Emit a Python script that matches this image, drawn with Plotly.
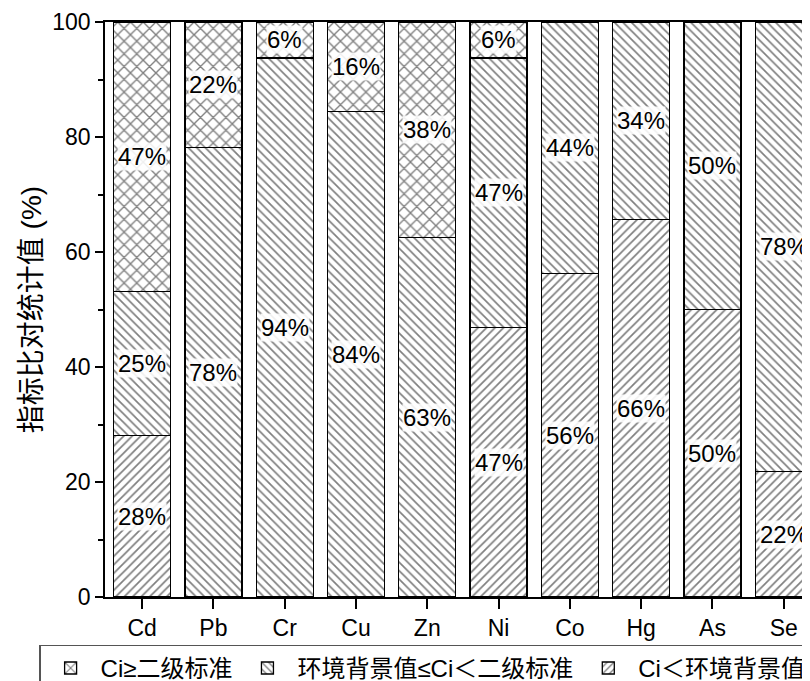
import plotly.graph_objects as go

categories = ["Cd", "Pb", "Cr", "Cu", "Zn", "Ni", "Co", "Hg", "As", "Se"]
# percentages of samples in each class
below_background = [28.125, 0, 0, 0, 0, 46.875, 56.25, 65.625, 50.0, 21.875]
between_levels = [25.0, 78.125, 93.75, 84.375, 62.5, 46.875, 43.75, 34.375, 50.0, 78.125]
above_level2 = [46.875, 21.875, 6.25, 15.625, 37.5, 6.25, 0, 0, 0, 0]

series_names = ["Ci＜环境背景值", "环境背景值≤Ci＜二级标准", "Ci≥二级标准"]
series_values = [below_background, between_levels, above_level2]
series_patterns = ["/", "\\", "x"]
pattern_sizes = [6, 6, 9]

FONT = "Liberation Sans, Arial, Noto Sans CJK SC, sans-serif"

fig = go.Figure()
for name, vals, pat, ps in zip(series_names, series_values, series_patterns, pattern_sizes):
    fig.add_trace(go.Bar(
        x=categories, y=vals, name=name, width=0.8,
        marker=dict(color="white",
                    line=dict(color="black", width=1.3),
                    pattern=dict(shape=pat, fgcolor="#000000", bgcolor="white",
                                 size=ps, solidity=0.28)),
    ))

annotations = []
for i, cat in enumerate(categories):
    base = 0.0
    for vals in series_values:
        v = vals[i]
        if v > 0:
            annotations.append(dict(
                x=cat, y=base + v / 2, xref="x", yref="y",
                text=f"{int(v + 0.5)}%", showarrow=False,
                font=dict(family=FONT, size=24, color="black"),
                bgcolor="rgba(255,255,255,0.88)", borderpad=0,
            ))
        base += v

fig.update_layout(
    width=810, height=681,
    barmode="stack",
    plot_bgcolor="white", paper_bgcolor="white",
    margin=dict(l=97, r=0, t=14, b=92, autoexpand=False),
    font=dict(family=FONT, size=23, color="black"),
    annotations=annotations,
    showlegend=True,
    legend=dict(orientation="h", traceorder="reversed",
                x=-0.092, xanchor="left", y=-0.083, yanchor="top",
                bordercolor="#555", borderwidth=1.2,
                font=dict(family=FONT, size=24), itemwidth=50,
                tracegroupgap=0),
)
fig.update_xaxes(
    range=[-0.52, 9.48], showline=True, linecolor="black", linewidth=1.5,
    mirror=True, ticks="outside", ticklen=10, tickwidth=1.5, tickcolor="black",
    showgrid=False, zeroline=False, tickfont=dict(size=23),
)
fig.update_yaxes(
    range=[0, 100], showline=True, linecolor="black", linewidth=1.5,
    ticks="outside", ticklen=8, tickwidth=1.5, tickcolor="black",
    tickvals=[0, 20, 40, 60, 80, 100],
    minor=dict(ticks="outside", ticklen=5, tickwidth=1.5, tickcolor="black",
               tickvals=[10, 30, 50, 70, 90], showgrid=False),
    showgrid=False, zeroline=False, tickfont=dict(size=23),
    title=dict(text="指标比对统计值 (%)", font=dict(size=28), standoff=2),
)

fig.write_html("out.html")
